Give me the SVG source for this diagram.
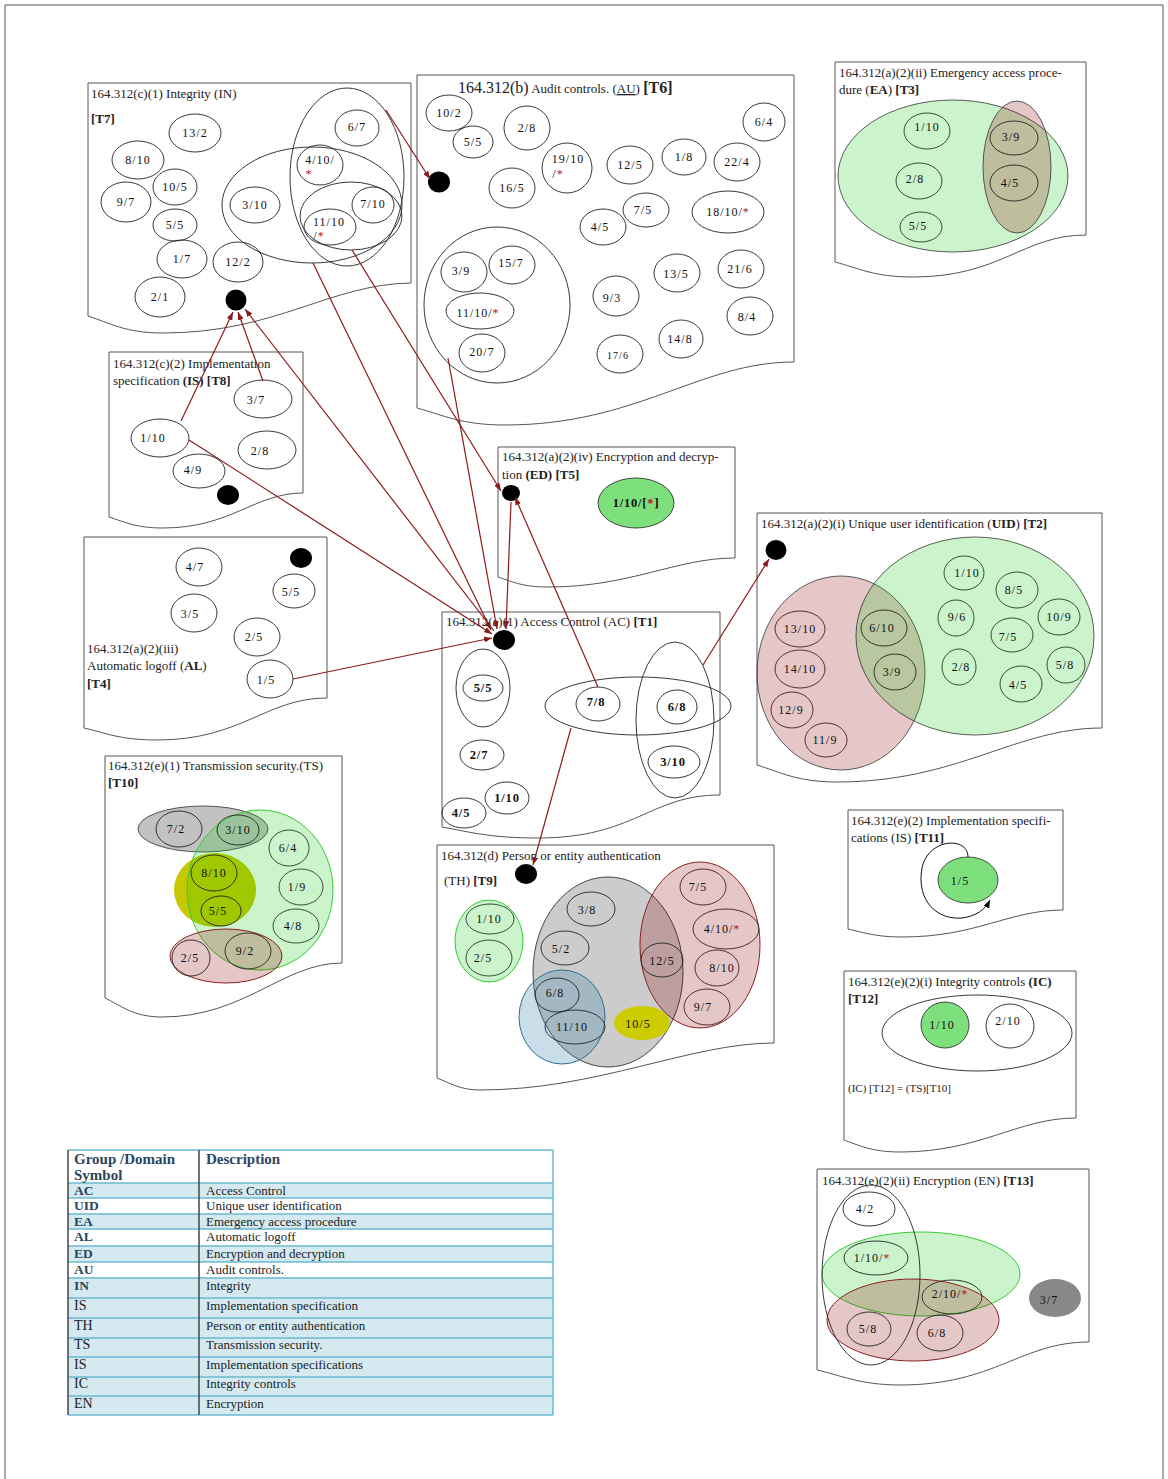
<svg xmlns="http://www.w3.org/2000/svg" width="1168" height="1479" viewBox="0 0 1168 1479">
<style>
  .doc{fill:#fff;stroke:#555;stroke-width:1}
  .n{fill:none;stroke:#222;stroke-width:0.9}
  .ng{fill:none;stroke:#1f3d1f;stroke-width:0.9}
  .nr{fill:none;stroke:#4a1a1a;stroke-width:0.9}
  .t{font-family:"Liberation Serif","Times New Roman",serif;font-size:12px;text-anchor:middle;fill:#111;letter-spacing:1px}
  .tb{font-family:"Liberation Serif","Times New Roman",serif;font-size:12.5px;text-anchor:middle;fill:#111;font-weight:bold;letter-spacing:0.8px}
  .ttl{font-family:"Liberation Serif","Times New Roman",serif;font-size:13px;fill:#222}
  .b{font-weight:bold}
  .st{fill:#b01818}
  .dot{fill:#000}
  .grn{fill:#00c800;fill-opacity:0.2}
  .red{fill:#8b0000;fill-opacity:0.22}
  .c{stroke:#8b1a1a;stroke-width:1.2;fill:none;marker-end:url(#ah)}
  .tbl{font-family:"Liberation Serif","Times New Roman",serif;font-size:13px;fill:#222}
  .sym{font-family:"Liberation Serif","Times New Roman",serif;font-size:13.5px;font-weight:bold;fill:#2b4560}
  .hd{font-family:"Liberation Serif","Times New Roman",serif;font-size:15px;font-weight:bold;fill:#2b4560}
  .symr{font-family:"Liberation Serif","Times New Roman",serif;font-size:14px;fill:#222}
</style>
<defs>
  <marker id="ah" viewBox="0 0 8 6" refX="8" refY="3" markerWidth="8" markerHeight="6" markerUnits="userSpaceOnUse" orient="auto">
    <path d="M0,0 L8,3 L0,6 Z" fill="#8b1a1a"/>
  </marker>
  <marker id="ahk" viewBox="0 0 8 6" refX="8" refY="3" markerWidth="8" markerHeight="6" markerUnits="userSpaceOnUse" orient="auto">
    <path d="M0,0 L8,3 L0,6 Z" fill="#000"/>
  </marker>
</defs>

<!-- page frame -->
<path d="M5,1479 V5 H1163 V1479" fill="none" stroke="#555" stroke-width="1"/>

<!-- T7 Integrity -->
<g id="t7">
  <path class="doc" d="M88,83 H411 V283 C330,284 276,333 163,333 C125,333 110,323 88,316 Z"/>
  <text class="ttl" x="91" y="98">164.312(c)(1) Integrity (IN)</text>
  <text class="ttl b" x="91" y="123">[T7]</text>
  <ellipse class="n" cx="312" cy="205" rx="90" ry="58"/>
  <ellipse class="n" cx="347" cy="177" rx="57" ry="89"/>
  <ellipse class="n" cx="351" cy="216" rx="51" ry="34"/>
  <ellipse class="n" cx="195" cy="133" rx="26" ry="19"/><text class="t" x="195" y="137">13/2</text>
  <ellipse class="n" cx="138" cy="160" rx="26" ry="19"/><text class="t" x="138" y="164">8/10</text>
  <ellipse class="n" cx="175" cy="187" rx="22" ry="18"/><text class="t" x="175" y="191">10/5</text>
  <ellipse class="n" cx="126" cy="202" rx="25" ry="20"/><text class="t" x="126" y="206">9/7</text>
  <ellipse class="n" cx="175" cy="225" rx="22" ry="16"/><text class="t" x="175" y="229">5/5</text>
  <ellipse class="n" cx="182" cy="259" rx="25" ry="19"/><text class="t" x="182" y="263">1/7</text>
  <ellipse class="n" cx="238" cy="262" rx="25" ry="20"/><text class="t" x="238" y="266">12/2</text>
  <ellipse class="n" cx="160" cy="297" rx="25" ry="20"/><text class="t" x="160" y="301">2/1</text>
  <ellipse class="n" cx="255" cy="205" rx="25" ry="18"/><text class="t" x="255" y="209">3/10</text>
  <ellipse class="n" cx="357" cy="128" rx="22" ry="18"/><text class="t" x="357" y="131">6/7</text>
  <ellipse class="n" cx="320" cy="165" rx="23" ry="20"/><text class="t" x="320" y="164">4/10/</text><text class="t st" x="309" y="178">*</text>
  <ellipse class="n" cx="373" cy="205" rx="21" ry="18"/><text class="t" x="373" y="208">7/10</text>
  <ellipse class="n" cx="330" cy="227" rx="26" ry="18"/><text class="t" x="329" y="226">11/10</text><text class="t" x="319" y="240">/<tspan class="st">*</tspan></text>
  <ellipse class="dot" cx="236" cy="300" rx="10.5" ry="10.5"/>
</g>

<!-- T6 Audit controls -->
<g id="t6">
  <path class="doc" d="M417,75 H794 V362 C700,362 637,425 505,425 C461,425 443,415 417,408 Z"/>
  <text x="458" y="93" style="font-family:'Liberation Serif',serif;fill:#222"><tspan font-size="16">164.312(b)</tspan><tspan font-size="13"> Audit controls. (</tspan><tspan font-size="13" text-decoration="underline">AU</tspan><tspan font-size="13">) </tspan><tspan font-size="16" font-weight="bold">[T6]</tspan></text>
  <ellipse class="n" cx="497" cy="305" rx="73" ry="78"/>
  <ellipse class="n" cx="449" cy="113" rx="23" ry="18"/><text class="t" x="449" y="117">10/2</text>
  <ellipse class="n" cx="473" cy="142" rx="20" ry="16"/><text class="t" x="473" y="146">5/5</text>
  <ellipse class="n" cx="527" cy="128" rx="23" ry="22"/><text class="t" x="527" y="132">2/8</text>
  <ellipse class="n" cx="567" cy="168" rx="25" ry="25"/><text class="t" x="568" y="163">19/10</text><text class="t" x="558" y="178">/<tspan class="st">*</tspan></text>
  <ellipse class="n" cx="512" cy="188" rx="23" ry="20"/><text class="t" x="512" y="192">16/5</text>
  <ellipse class="n" cx="630" cy="165" rx="23" ry="19"/><text class="t" x="630" y="169">12/5</text>
  <ellipse class="n" cx="684" cy="157" rx="22" ry="18"/><text class="t" x="684" y="161">1/8</text>
  <ellipse class="n" cx="737" cy="162" rx="23" ry="19"/><text class="t" x="737" y="166">22/4</text>
  <ellipse class="n" cx="764" cy="122" rx="21" ry="19"/><text class="t" x="764" y="126">6/4</text>
  <ellipse class="n" cx="646" cy="210" rx="23" ry="17"/><text class="t" x="643" y="214">7/5</text>
  <ellipse class="n" cx="603" cy="227" rx="23" ry="18"/><text class="t" x="600" y="231">4/5</text>
  <ellipse class="n" cx="728" cy="212" rx="36" ry="21"/><text class="t" x="728" y="216">18/10/<tspan class="st">*</tspan></text>
  <ellipse class="n" cx="464" cy="272" rx="23" ry="20"/><text class="t" x="461" y="275">3/9</text>
  <ellipse class="n" cx="512" cy="265" rx="23" ry="19"/><text class="t" x="511" y="267">15/7</text>
  <ellipse class="n" cx="480" cy="311" rx="34" ry="18"/><text class="t" x="478" y="317">11/10/<tspan class="st">*</tspan></text>
  <ellipse class="n" cx="482" cy="353" rx="23" ry="19"/><text class="t" x="482" y="356">20/7</text>
  <ellipse class="n" cx="616" cy="296" rx="23" ry="20"/><text class="t" x="612" y="302">9/3</text>
  <ellipse class="n" cx="677" cy="273" rx="23" ry="19"/><text class="t" x="676" y="278">13/5</text>
  <ellipse class="n" cx="741" cy="269" rx="23" ry="19"/><text class="t" x="740" y="273">21/6</text>
  <ellipse class="n" cx="750" cy="316" rx="23" ry="19"/><text class="t" x="747" y="321">8/4</text>
  <ellipse class="n" cx="681" cy="339" rx="22" ry="19"/><text class="t" x="680" y="343">14/8</text>
  <ellipse class="n" cx="620" cy="354" rx="23" ry="19"/><text class="t" x="618" y="359" style="font-size:10px">17/6</text>
  <ellipse class="dot" cx="439" cy="182" rx="11" ry="10.5"/>
</g>

<!-- T3 Emergency access procedure -->
<g id="t3">
  <path class="doc" d="M835,62 H1086 V235 C1023,235 1001,277 913,277 C874,277 858,268 835,262 Z"/>
  <text class="ttl" x="839" y="77">164.312(a)(2)(ii) Emergency access proce-</text>
  <text class="ttl" x="839" y="94">dure (<tspan class="b">EA</tspan>)  <tspan class="b">[T3]</tspan></text>
  <ellipse class="grn" cx="953" cy="176" rx="115" ry="76" stroke="#333" stroke-width="0.8"/>
  <ellipse class="red" cx="1017" cy="167" rx="34" ry="66" stroke="#333" stroke-width="0.8"/>
  <ellipse class="ng" cx="927" cy="131" rx="23" ry="18"/><text class="t" x="927" y="131">1/10</text>
  <ellipse class="ng" cx="919" cy="181" rx="23" ry="18"/><text class="t" x="915" y="183">2/8</text>
  <ellipse class="ng" cx="921" cy="227" rx="21" ry="15"/><text class="t" x="918" y="230">5/5</text>
  <ellipse class="n" cx="1014" cy="138" rx="24" ry="17"/><text class="t" x="1011" y="141">3/9</text>
  <ellipse class="n" cx="1014" cy="183" rx="24" ry="18"/><text class="t" x="1010" y="187">4/5</text>
</g>

<!-- T8 Implementation specification -->
<g id="t8">
  <path class="doc" d="M109,352 H303 V493 C255,493 231,528 163,528 C136,528 125,522 109,517 Z"/>
  <text class="ttl" x="113" y="368">164.312(c)(2) Implementation</text>
  <text class="ttl" x="113" y="385">specification <tspan class="b">(IS) [T8]</tspan></text>
  <ellipse class="n" cx="263" cy="399" rx="29" ry="19"/><text class="t" x="256" y="404">3/7</text>
  <ellipse class="n" cx="160" cy="438" rx="29" ry="19"/><text class="t" x="153" y="442">1/10</text>
  <ellipse class="n" cx="267" cy="450" rx="29" ry="19"/><text class="t" x="260" y="455">2/8</text>
  <ellipse class="n" cx="199" cy="471" rx="26" ry="17"/><text class="t" x="193" y="474">4/9</text>
  <ellipse class="dot" cx="228" cy="495" rx="11" ry="10"/>
</g>

<!-- T4 Automatic logoff -->
<g id="t4">
  <path class="doc" d="M84,537 H327 V698 C266,698 242,740 157,740 C120,740 106,733 84,728 Z"/>
  <text class="ttl" x="87" y="653">164.312(a)(2)(iii)</text>
  <text class="ttl" x="87" y="670">Automatic logoff (<tspan class="b">AL</tspan>)</text>
  <text class="ttl b" x="87" y="688">[T4]</text>
  <ellipse class="n" cx="199" cy="567" rx="23" ry="19"/><text class="t" x="195" y="571">4/7</text>
  <ellipse class="n" cx="294" cy="591" rx="21" ry="17"/><text class="t" x="291" y="596">5/5</text>
  <ellipse class="n" cx="194" cy="613" rx="23" ry="19"/><text class="t" x="190" y="618">3/5</text>
  <ellipse class="n" cx="257" cy="637" rx="23" ry="19"/><text class="t" x="254" y="641">2/5</text>
  <ellipse class="n" cx="270" cy="679" rx="23" ry="19"/><text class="t" x="266" y="684">1/5</text>
  <ellipse class="dot" cx="301" cy="558" rx="11" ry="10"/>
</g>

<!-- T5 Encryption and decryption -->
<g id="t5">
  <path class="doc" d="M498,447 H735 V558 C676,558 631,587 548,587 C523,587 513,582 498,577 Z"/>
  <text class="ttl" x="502" y="461">164.312(a)(2)(iv) Encryption and decryp-</text>
  <text class="ttl" x="502" y="479">tion <tspan class="b">(ED)</tspan>   <tspan class="b">[T5]</tspan></text>
  <ellipse cx="636" cy="503" rx="38" ry="25" fill="#7de07d" stroke="#333" stroke-width="0.9"/>
  <text class="tb" x="636" y="507">1/10/[<tspan class="st">*</tspan>]</text>
  <ellipse class="dot" cx="511" cy="493" rx="9" ry="8"/>
</g>

<!-- T1 Access Control -->
<g id="t1">
  <path class="doc" d="M442,612 H720 V795 C650,795 635,838 538,838 C490,838 470,832 442,827 Z"/>
  <text class="ttl" x="446" y="626">164.312(a)(1) Access Control  (AC)  <tspan class="b">[T1]</tspan></text>
  <ellipse class="n" cx="483" cy="688" rx="27" ry="39"/>
  <ellipse class="n" cx="638" cy="706" rx="93" ry="29"/>
  <ellipse class="n" cx="675" cy="720" rx="39" ry="78"/>
  <ellipse class="n" cx="483" cy="688" rx="20" ry="13"/><text class="tb" x="483" y="692">5/5</text>
  <ellipse class="n" cx="482" cy="755" rx="22" ry="15"/><text class="tb" x="479" y="759">2/7</text>
  <ellipse class="n" cx="507" cy="798" rx="22" ry="16"/><text class="tb" x="507" y="802">1/10</text>
  <ellipse class="n" cx="464" cy="813" rx="22" ry="15"/><text class="tb" x="461" y="817">4/5</text>
  <ellipse class="n" cx="598" cy="704" rx="22" ry="17"/><text class="tb" x="596" y="706">7/8</text>
  <ellipse class="n" cx="677" cy="707" rx="20" ry="17"/><text class="tb" x="677" y="711">6/8</text>
  <ellipse class="n" cx="674" cy="762" rx="26" ry="16"/><text class="tb" x="673" y="766">3/10</text>
  <ellipse class="dot" cx="504" cy="640" rx="11" ry="10"/>
</g>

<!-- T2 Unique user identification -->
<g id="t2">
  <path class="doc" d="M757,513 H1102 V728 C1016,728 958,782 837,782 C797,782 780,772 757,765 Z"/>
  <text class="ttl" x="761" y="528">164.312(a)(2)(i)  Unique user identification (<tspan class="b">UID</tspan>)  <tspan class="b">[T2]</tspan></text>
  <ellipse class="red" cx="841" cy="673" rx="84" ry="97" stroke="#333" stroke-width="0.8"/>
  <ellipse class="grn" cx="975" cy="636" rx="119" ry="99" stroke="#333" stroke-width="0.8"/>
  <ellipse class="nr" cx="800" cy="629" rx="25" ry="18"/><text class="t" x="800" y="633">13/10</text>
  <ellipse class="nr" cx="800" cy="669" rx="25" ry="19"/><text class="t" x="800" y="673">14/10</text>
  <ellipse class="nr" cx="792" cy="710" rx="21" ry="18"/><text class="t" x="791" y="714">12/9</text>
  <ellipse class="nr" cx="826" cy="740" rx="21" ry="17"/><text class="t" x="825" y="744">11/9</text>
  <ellipse class="n" cx="884" cy="628" rx="23" ry="18"/><text class="t" x="882" y="632">6/10</text>
  <ellipse class="n" cx="895" cy="672" rx="21" ry="18"/><text class="t" x="892" y="676">3/9</text>
  <ellipse class="ng" cx="964" cy="573" rx="20" ry="17"/><text class="t" x="967" y="577">1/10</text>
  <ellipse class="ng" cx="1017" cy="590" rx="21" ry="18"/><text class="t" x="1014" y="594">8/5</text>
  <ellipse class="ng" cx="956" cy="618" rx="18" ry="18"/><text class="t" x="957" y="621">9/6</text>
  <ellipse class="ng" cx="1059" cy="617" rx="21" ry="18"/><text class="t" x="1059" y="621">10/9</text>
  <ellipse class="ng" cx="1012" cy="635" rx="21" ry="17"/><text class="t" x="1008" y="641">7/5</text>
  <ellipse class="ng" cx="959" cy="667" rx="17" ry="18"/><text class="t" x="961" y="671">2/8</text>
  <ellipse class="ng" cx="1066" cy="665" rx="19" ry="18"/><text class="t" x="1065" y="669">5/8</text>
  <ellipse class="ng" cx="1021" cy="684" rx="21" ry="18"/><text class="t" x="1018" y="689">4/5</text>
  <ellipse class="dot" cx="776" cy="550" rx="10.5" ry="10"/>
</g>

<!-- T10 Transmission security -->
<g id="t10">
  <path class="doc" d="M105,756 H342 V963 C283,963 245,1017 162,1017 C133,1017 120,1005 105,998 Z"/>
  <text class="ttl" x="108" y="770">164.312(e)(1) Transmission security.(TS)</text>
  <text class="ttl b" x="108" y="787">[T10]</text>
  <ellipse cx="203" cy="829" rx="65" ry="23" fill="#000" fill-opacity="0.24" stroke="#444" stroke-width="0.9"/>
  <ellipse cx="215" cy="890" rx="41" ry="37" fill="#c8c800"/>
  <ellipse class="grn" cx="260" cy="890" rx="73" ry="80" stroke="#33cc33" stroke-width="1"/>
  <ellipse class="red" cx="226" cy="956" rx="56" ry="27" stroke="#8b2020" stroke-width="1"/>
  <ellipse class="n" cx="179" cy="829" rx="23" ry="18"/><text class="t" x="176" y="833">7/2</text>
  <ellipse class="n" cx="238" cy="830" rx="21" ry="15"/><text class="t" x="238" y="834">3/10</text>
  <ellipse class="ng" cx="289" cy="848" rx="20" ry="18"/><text class="t" x="288" y="852">6/4</text>
  <ellipse class="ng" cx="301" cy="887" rx="22" ry="18"/><text class="t" x="297" y="891">1/9</text>
  <ellipse class="ng" cx="296" cy="926" rx="23" ry="17"/><text class="t" x="293" y="930">4/8</text>
  <ellipse class="n" cx="214" cy="873" rx="23" ry="18"/><text class="t" x="214" y="877">8/10</text>
  <ellipse class="n" cx="221" cy="911" rx="20" ry="15"/><text class="t" x="218" y="915">5/5</text>
  <ellipse class="n" cx="191" cy="958" rx="19" ry="18"/><text class="t" x="190" y="962">2/5</text>
  <ellipse class="n" cx="248" cy="951" rx="23" ry="18"/><text class="t" x="245" y="955">9/2</text>
</g>

<!-- T9 Person or entity authentication -->
<g id="t9">
  <path class="doc" d="M437,845 H774 V1043 C690,1043 598,1090 480,1090 C460,1090 450,1083 437,1078 Z"/>
  <text class="ttl" x="441" y="860">164.312(d)  Person or entity authentication</text>
  <text class="ttl" x="444" y="885">(TH) <tspan class="b">[T9]</tspan></text>
  <ellipse class="grn" cx="489" cy="941" rx="34" ry="41" stroke="#33cc33" stroke-width="1"/>
  <ellipse cx="608" cy="972" rx="75" ry="95" fill="#000" fill-opacity="0.2" stroke="#333" stroke-width="0.9"/>
  <ellipse class="red" cx="700" cy="945" rx="60" ry="83" stroke="#8b2020" stroke-width="1"/>
  <ellipse cx="562" cy="1017" rx="43" ry="47" fill="#3080a8" fill-opacity="0.26" stroke="#2f7090" stroke-width="1"/>
  <ellipse cx="642" cy="1023" rx="28" ry="17" fill="#cccc00"/><text class="t" x="638" y="1028">10/5</text>
  <ellipse class="ng" cx="490" cy="919" rx="24" ry="15"/><text class="t" x="489" y="923">1/10</text>
  <ellipse class="ng" cx="489" cy="958" rx="23" ry="18"/><text class="t" x="483" y="962">2/5</text>
  <ellipse class="n" cx="591" cy="909" rx="24" ry="17"/><text class="t" x="587" y="914">3/8</text>
  <ellipse class="n" cx="565" cy="948" rx="24" ry="17"/><text class="t" x="561" y="953">5/2</text>
  <ellipse class="n" cx="557" cy="995" rx="22" ry="17"/><text class="t" x="555" y="997">6/8</text>
  <ellipse class="n" cx="575" cy="1027" rx="30" ry="17"/><text class="t" x="572" y="1031">11/10</text>
  <ellipse class="n" cx="662" cy="960" rx="21" ry="17"/><text class="t" x="662" y="965">12/5</text>
  <ellipse class="nr" cx="703" cy="887" rx="23" ry="18"/><text class="t" x="698" y="891">7/5</text>
  <ellipse class="nr" cx="726" cy="929" rx="33" ry="20"/><text class="t" x="722" y="933">4/10/<tspan class="st">*</tspan></text>
  <ellipse class="nr" cx="717" cy="968" rx="22" ry="18"/><text class="t" x="722" y="972">8/10</text>
  <ellipse class="nr" cx="707" cy="1007" rx="23" ry="18"/><text class="t" x="703" y="1011">9/7</text>
  <ellipse class="dot" cx="526" cy="874" rx="11" ry="10"/>
</g>

<!-- T11 Implementation specifications -->
<g id="t11">
  <path class="doc" d="M848,810 H1063 V910 C1009,910 977,937 902,937 C875,937 862,932 848,929 Z"/>
  <text class="ttl" x="851" y="825">164.312(e)(2) Implementation specifi-</text>
  <text class="ttl" x="851" y="842">cations (IS)  <tspan class="b">[T11]</tspan></text>
  <ellipse cx="968" cy="880" rx="30" ry="23" fill="#7de07d" stroke="#333" stroke-width="0.9"/>
  <text class="t" x="960" y="885">1/5</text>
  <path d="M968,857 C968,836 928,838 922,868 C916,902 938,920 962,918 C976,916 985,910 990,900" fill="none" stroke="#111" stroke-width="1" marker-end="url(#ahk)"/>
</g>

<!-- T12 Integrity controls -->
<g id="t12">
  <path class="doc" d="M844,971 H1076 V1118 C1018,1118 981,1152 900,1152 C872,1152 858,1145 844,1140 Z"/>
  <text class="ttl" x="848" y="986">164.312(e)(2)(i) Integrity controls  <tspan class="b">(IC)</tspan></text>
  <text class="ttl b" x="848" y="1003">[T12]</text>
  <ellipse class="n" cx="977" cy="1033" rx="95" ry="38"/>
  <ellipse cx="945" cy="1025" rx="24" ry="23" fill="#7de07d" stroke="#333" stroke-width="0.9"/><text class="t" x="942" y="1029">1/10</text>
  <ellipse class="n" cx="1010" cy="1026" rx="24" ry="22"/><text class="t" x="1008" y="1025">2/10</text>
  <text class="ttl" x="848" y="1092" style="font-size:11px">(IC) [T12] = (TS)[T10]</text>
</g>

<!-- T13 Encryption -->
<g id="t13">
  <path class="doc" d="M817,1169 H1089 V1342 C1021,1342 995,1385 900,1385 C860,1385 840,1375 817,1370 Z"/>
  <text class="ttl" x="822" y="1185">164.312(e)(2)(ii) Encryption (EN)  <tspan class="b">[T13]</tspan></text>
  <ellipse class="grn" cx="921" cy="1274" rx="99" ry="42" stroke="#33cc33" stroke-width="1"/>
  <ellipse class="red" cx="913" cy="1320" rx="86" ry="41" stroke="#8b2020" stroke-width="1"/>
  <ellipse class="n" cx="871" cy="1275" rx="49" ry="90"/>
  <ellipse class="n" cx="869" cy="1209" rx="26" ry="17"/><text class="t" x="865" y="1213">4/2</text>
  <ellipse class="n" cx="876" cy="1258" rx="32" ry="17"/><text class="t" x="872" y="1262">1/10/<tspan class="st">*</tspan></text>
  <ellipse class="n" cx="952" cy="1297" rx="30" ry="17"/><text class="t" x="950" y="1298">2/10/<tspan class="st">*</tspan></text>
  <ellipse class="n" cx="869" cy="1329" rx="22" ry="17"/><text class="t" x="868" y="1333">5/8</text>
  <ellipse class="n" cx="940" cy="1333" rx="23" ry="18"/><text class="t" x="937" y="1337">6/8</text>
  <ellipse cx="1055" cy="1298" rx="26" ry="19" fill="#888"/><text class="t" x="1049" y="1304">3/7</text>
</g>

<!-- legend table -->
<g id="legend">
  <rect x="68" y="1183" width="485" height="15" fill="#d4e9f0"/>
  <rect x="68" y="1214" width="485" height="15" fill="#d4e9f0"/>
  <rect x="68" y="1246" width="485" height="16" fill="#d4e9f0"/>
  <rect x="68" y="1278" width="485" height="137" fill="#d4e9f0"/>
  <g stroke="#6bb8d2" stroke-width="1.5">
    <line x1="68" y1="1150" x2="553" y2="1150"/>
    <line x1="68" y1="1183" x2="553" y2="1183"/>
    <line x1="68" y1="1198" x2="553" y2="1198"/>
    <line x1="68" y1="1214" x2="553" y2="1214"/>
    <line x1="68" y1="1229" x2="553" y2="1229"/>
    <line x1="68" y1="1246" x2="553" y2="1246"/>
    <line x1="68" y1="1262" x2="553" y2="1262"/>
    <line x1="68" y1="1278" x2="553" y2="1278"/>
    <line x1="68" y1="1298" x2="553" y2="1298"/>
    <line x1="68" y1="1318" x2="553" y2="1318"/>
    <line x1="68" y1="1338" x2="553" y2="1338"/>
    <line x1="68" y1="1357" x2="553" y2="1357"/>
    <line x1="68" y1="1377" x2="553" y2="1377"/>
    <line x1="68" y1="1396" x2="553" y2="1396"/>
    <line x1="68" y1="1415" x2="553" y2="1415"/>
    <line x1="553" y1="1150" x2="553" y2="1415"/>
  </g>
  <line x1="68" y1="1150" x2="68" y2="1415" stroke="#444" stroke-width="1.5"/>
  <line x1="199" y1="1150" x2="199" y2="1415" stroke="#444" stroke-width="1.5"/>
  <text class="hd" x="74" y="1164">Group /Domain</text>
  <text class="hd" x="74" y="1180">Symbol</text>
  <text class="hd" x="206" y="1164">Description</text>
  <text class="sym" x="74" y="1195">AC</text><text class="tbl" x="206" y="1195">Access Control</text>
  <text class="sym" x="74" y="1210">UID</text><text class="tbl" x="206" y="1210">Unique user identification</text>
  <text class="sym" x="74" y="1226">EA</text><text class="tbl" x="206" y="1226">Emergency access procedure</text>
  <text class="sym" x="74" y="1241">AL</text><text class="tbl" x="206" y="1241">Automatic logoff</text>
  <text class="sym" x="74" y="1258">ED</text><text class="tbl" x="206" y="1258">Encryption and decryption</text>
  <text class="sym" x="74" y="1274">AU</text><text class="tbl" x="206" y="1274">Audit controls.</text>
  <text class="sym" x="74" y="1290">IN</text><text class="tbl" x="206" y="1290">Integrity</text>
  <text class="symr" x="74" y="1310">IS</text><text class="tbl" x="206" y="1310">Implementation specification</text>
  <text class="symr" x="74" y="1330">TH</text><text class="tbl" x="206" y="1330">Person or entity authentication</text>
  <text class="symr" x="74" y="1349">TS</text><text class="tbl" x="206" y="1349">Transmission security.</text>
  <text class="symr" x="74" y="1369">IS</text><text class="tbl" x="206" y="1369">Implementation specifications</text>
  <text class="symr" x="74" y="1388">IC</text><text class="tbl" x="206" y="1388">Integrity controls</text>
  <text class="symr" x="74" y="1408">EN</text><text class="tbl" x="206" y="1408">Encryption</text>
</g>

<!-- connectors between tables -->
<g id="connectors">
  <line class="c" x1="386" y1="110" x2="430" y2="179"/>
  <line class="c" x1="181" y1="421" x2="233" y2="312"/>
  <line class="c" x1="263" y1="381" x2="238" y2="312"/>
  <line class="c" x1="494" y1="631" x2="245" y2="309"/>
  <line class="c" x1="189" y1="440" x2="492" y2="634"/>
  <line class="c" x1="293" y1="679" x2="492" y2="638"/>
  <line class="c" x1="313" y1="263" x2="491" y2="630"/>
  <line class="c" x1="448" y1="358" x2="497" y2="629"/>
  <line class="c" x1="352" y1="250" x2="501" y2="491"/>
  <line class="c" x1="511" y1="502" x2="506" y2="629"/>
  <line class="c" x1="598" y1="687" x2="515" y2="497"/>
  <line class="c" x1="571" y1="728" x2="533" y2="865"/>
  <line class="c" x1="703" y1="665" x2="769" y2="559"/>
</g>
</svg>
